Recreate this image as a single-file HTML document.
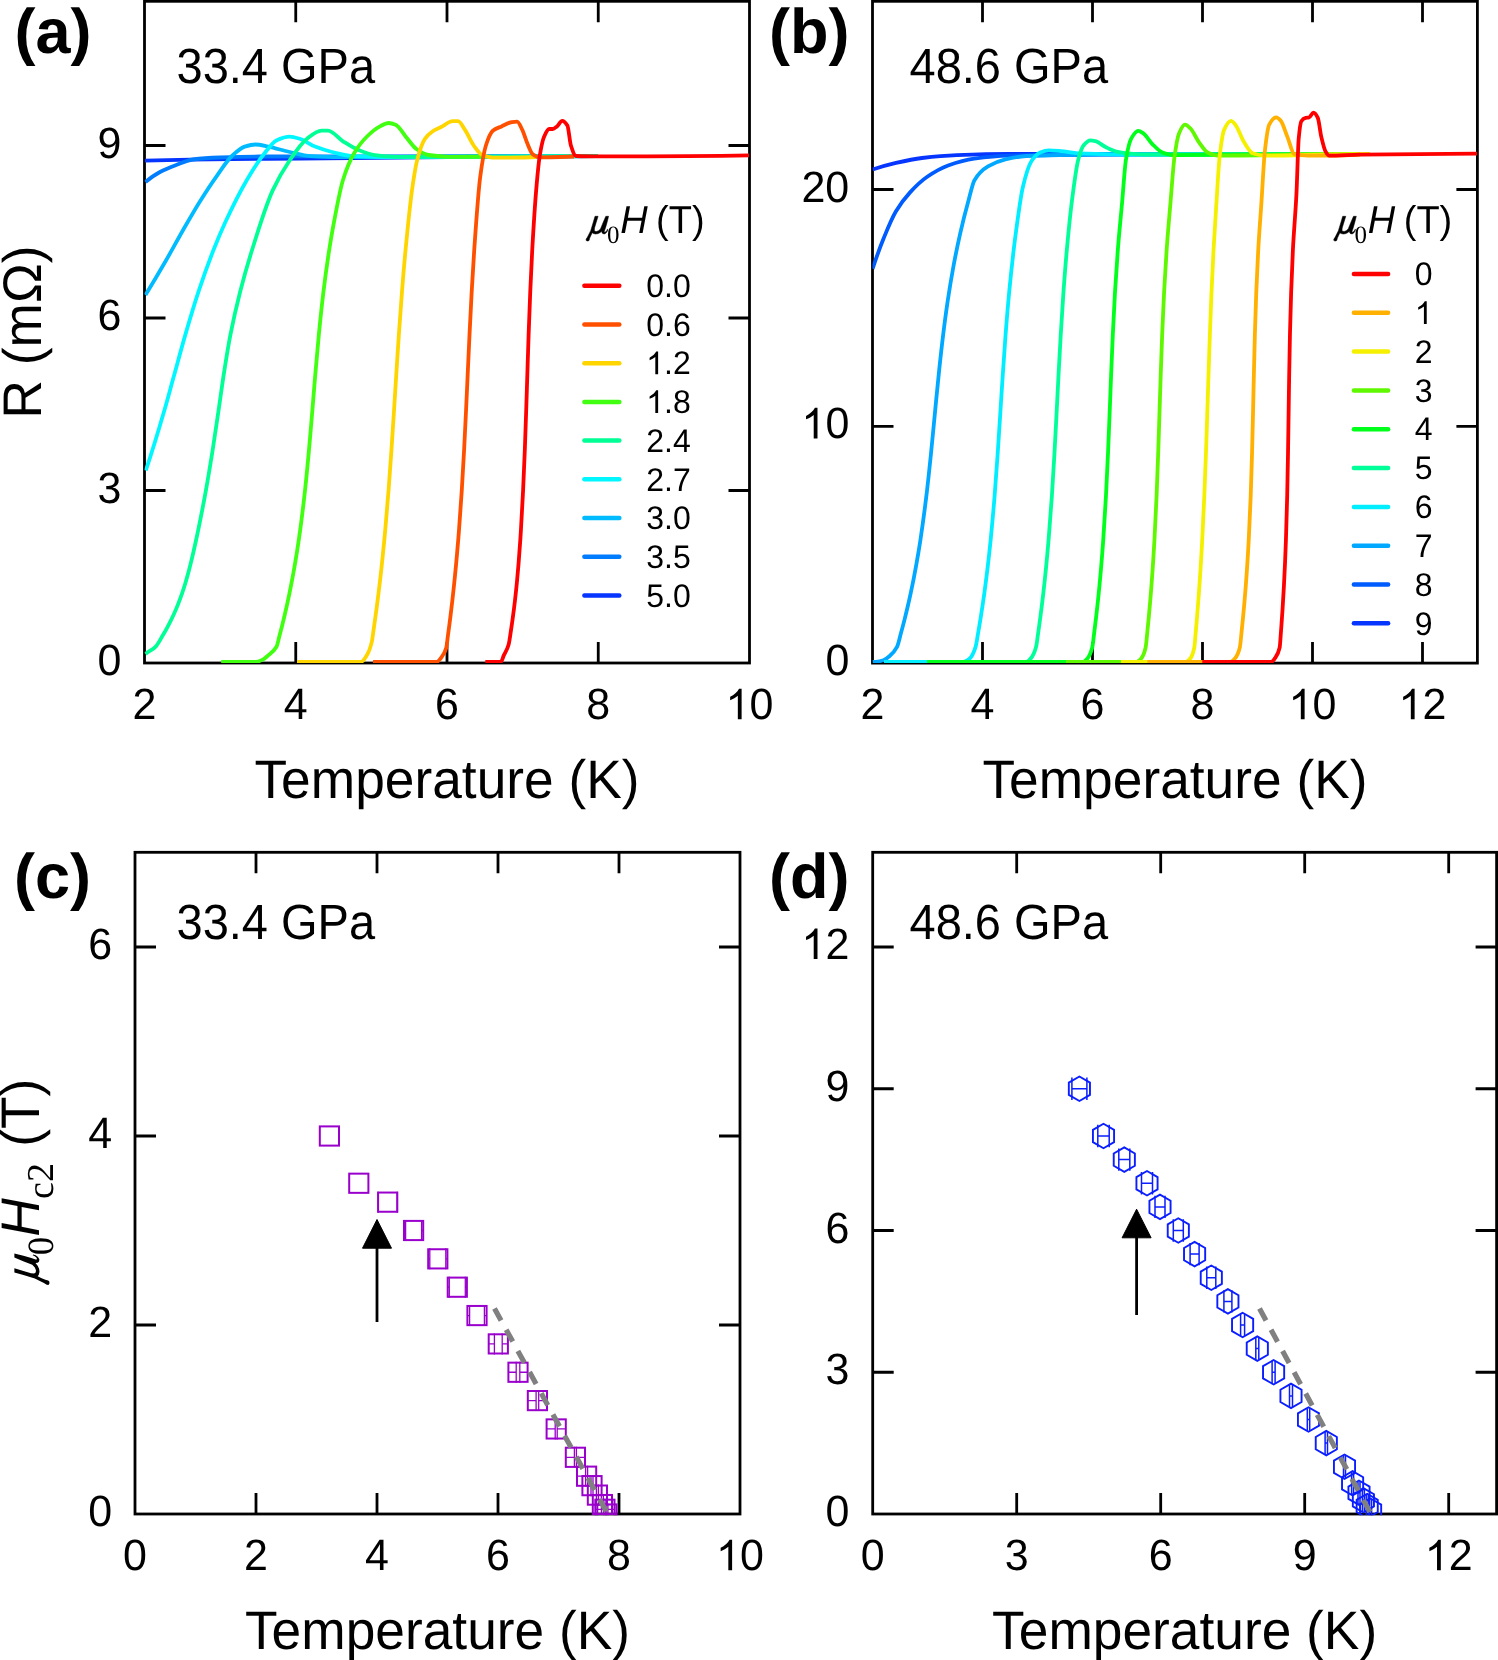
<!DOCTYPE html><html><head><meta charset="utf-8"><style>html,body{margin:0;padding:0;background:#fff;width:1498px;height:1660px;overflow:hidden}svg{display:block;will-change:transform}</style></head><body>
<svg xmlns="http://www.w3.org/2000/svg" width="1498" height="1660" viewBox="0 0 1498 1660" text-rendering="geometricPrecision">
<rect width="1498" height="1660" fill="#fff"/>
<defs><clipPath id="ca"><rect x="144.5" y="1.3" width="605.0" height="661.7"/></clipPath><clipPath id="cb"><rect x="872.5" y="1.3" width="604.9" height="661.8"/></clipPath><clipPath id="cc"><rect x="135.0" y="852.3" width="605.0" height="662.9"/></clipPath><clipPath id="cd"><rect x="872.7" y="852.3" width="623.9" height="662.9"/></clipPath></defs>
<rect x="144.50" y="1.30" width="605.00" height="661.70" fill="none" stroke="#000" stroke-width="2.8"/>
<path d="M295.75 663.00V642.00 M295.75 1.30V22.30 M447.00 663.00V642.00 M447.00 1.30V22.30 M598.25 663.00V642.00 M598.25 1.30V22.30 M144.50 490.50H165.50 M749.50 490.50H728.50 M144.50 318.00H165.50 M749.50 318.00H728.50 M144.50 145.50H165.50 M749.50 145.50H728.50 " stroke="#000" stroke-width="2.8" fill="none"/>
<rect x="872.50" y="1.30" width="604.90" height="661.80" fill="none" stroke="#000" stroke-width="2.8"/>
<path d="M982.50 663.10V642.10 M982.50 1.30V22.30 M1092.50 663.10V642.10 M1092.50 1.30V22.30 M1202.50 663.10V642.10 M1202.50 1.30V22.30 M1312.50 663.10V642.10 M1312.50 1.30V22.30 M1422.50 663.10V642.10 M1422.50 1.30V22.30 M872.50 426.30H893.50 M1477.40 426.30H1456.40 M872.50 189.50H893.50 M1477.40 189.50H1456.40 " stroke="#000" stroke-width="2.8" fill="none"/>
<rect x="135.00" y="852.30" width="605.00" height="661.70" fill="none" stroke="#000" stroke-width="2.8"/>
<path d="M256.00 1514.00V1493.00 M256.00 852.30V873.30 M377.00 1514.00V1493.00 M377.00 852.30V873.30 M498.00 1514.00V1493.00 M498.00 852.30V873.30 M619.00 1514.00V1493.00 M619.00 852.30V873.30 M135.00 1325.00H156.00 M740.00 1325.00H719.00 M135.00 1136.00H156.00 M740.00 1136.00H719.00 M135.00 947.00H156.00 M740.00 947.00H719.00 " stroke="#000" stroke-width="2.8" fill="none"/>
<rect x="872.70" y="852.30" width="623.90" height="661.70" fill="none" stroke="#000" stroke-width="2.8"/>
<path d="M1016.70 1514.00V1493.00 M1016.70 852.30V873.30 M1160.70 1514.00V1493.00 M1160.70 852.30V873.30 M1304.70 1514.00V1493.00 M1304.70 852.30V873.30 M1448.70 1514.00V1493.00 M1448.70 852.30V873.30 M872.70 1372.25H893.70 M1496.60 1372.25H1475.60 M872.70 1230.50H893.70 M1496.60 1230.50H1475.60 M872.70 1088.75H893.70 M1496.60 1088.75H1475.60 M872.70 947.00H893.70 M1496.60 947.00H1475.60 " stroke="#000" stroke-width="2.8" fill="none"/>
<path d="M145.00 160.60 C160.00 160.21 175.00 159.86 190.00 159.60 C204.00 159.36 218.00 159.12 232.00 159.00 C254.67 158.80 277.33 158.77 300.00 158.60 C333.33 158.36 366.67 157.93 400.00 157.60 C433.33 157.27 466.67 156.82 500.00 156.60 C532.67 156.38 565.33 156.19 598.00 156.10" fill="none" stroke="#0535ff" stroke-width="3.8" stroke-linejoin="round" stroke-linecap="butt" clip-path="url(#ca)"/>
<path d="M145.50 181.90 C150.33 178.01 155.17 174.57 160.00 172.00 C165.00 169.35 170.00 167.39 175.00 165.50 C181.00 163.23 187.00 160.26 193.00 159.50 C202.00 158.36 211.00 157.85 220.00 157.50 C233.33 156.99 246.67 156.56 260.00 156.50 C290.00 156.36 320.00 156.36 350.00 156.30 C432.67 156.14 515.33 156.00 598.00 155.90" fill="none" stroke="#007dff" stroke-width="3.8" stroke-linejoin="round" stroke-linecap="butt" clip-path="url(#ca)"/>
<path d="M145.48 295.00 C152.22 284.02 158.95 272.66 165.69 261.00 C171.31 251.27 176.93 240.77 182.55 231.00 C188.34 220.94 194.12 210.77 199.91 201.50 C205.56 192.44 211.21 183.76 216.87 175.80 C221.88 168.75 226.89 160.69 231.90 156.00 C236.17 152.01 240.43 147.90 244.70 146.60 C248.27 145.51 251.83 144.50 255.40 144.50 C259.67 144.50 263.93 145.77 268.20 146.60 C275.33 147.99 282.47 150.43 289.60 152.00 C296.73 153.57 303.87 155.77 311.00 156.20 C320.67 156.79 330.33 157.20 340.00 157.20 C360.00 157.20 380.00 156.91 400.00 156.80 C466.00 156.45 532.00 156.13 598.00 156.00" fill="none" stroke="#00bbff" stroke-width="3.8" stroke-linejoin="round" stroke-linecap="butt" clip-path="url(#ca)"/>
<path d="M145.83 470.50 C152.05 451.87 158.27 431.38 164.48 410.00 C167.48 399.71 170.47 388.38 173.46 377.60 C177.41 363.34 181.37 348.48 185.32 334.90 C189.71 319.82 194.10 304.94 198.50 291.70 C203.50 276.63 208.50 262.71 213.50 250.00 C217.39 240.11 221.29 230.90 225.18 222.50 C232.46 206.77 239.75 192.08 247.03 179.70 C252.69 170.09 258.34 161.07 264.00 154.00 C268.27 148.67 272.53 142.10 276.80 140.20 C281.07 138.30 285.33 136.60 289.60 136.60 C293.17 136.60 296.73 137.91 300.30 139.00 C305.20 140.50 310.10 144.66 315.00 146.60 C320.67 148.84 326.33 150.62 332.00 152.00 C339.23 153.76 346.47 155.81 353.70 156.20 C362.47 156.67 371.23 157.00 380.00 157.00 C452.67 157.00 525.33 157.00 598.00 156.00" fill="none" stroke="#00f7ff" stroke-width="3.8" stroke-linejoin="round" stroke-linecap="butt" clip-path="url(#ca)"/>
<path d="M145.50 654.00 C145.80 653.73 146.10 653.44 146.40 653.20 C149.42 650.75 152.43 649.78 155.45 646.80 C157.76 644.52 160.07 639.92 162.38 636.10 C164.39 632.78 166.40 629.23 168.41 625.40 C170.14 622.11 171.87 618.59 173.59 614.80 C175.11 611.48 176.62 607.93 178.13 604.10 C179.44 600.78 180.75 597.22 182.06 593.40 C183.21 590.07 184.35 586.50 185.49 582.70 C186.50 579.35 187.51 575.76 188.52 572.00 C189.42 568.65 190.31 565.08 191.21 561.40 C192.05 557.97 192.88 554.36 193.72 550.70 C194.52 547.22 195.31 543.64 196.11 540.00 C196.80 536.80 197.50 533.60 198.20 530.20 C200.78 517.61 203.37 504.46 205.96 490.10 C208.19 477.68 210.43 464.14 212.66 450.00 C214.65 437.41 216.64 423.61 218.63 410.00 C220.18 399.41 221.73 387.64 223.28 377.60 C225.65 362.21 228.03 347.09 230.40 334.90 C233.65 318.21 236.90 304.47 240.15 291.70 C244.12 276.12 248.08 262.66 252.05 250.00 C258.93 228.02 265.81 205.37 272.69 190.40 C278.32 178.13 283.96 168.79 289.60 160.50 C295.30 152.12 301.00 143.40 306.70 139.00 C311.67 135.17 316.63 130.60 321.60 130.60 C323.73 130.60 325.87 130.60 328.00 130.60 C333.00 130.60 338.00 138.14 343.00 141.30 C348.00 144.46 353.00 147.75 358.00 149.80 C363.67 152.12 369.33 154.49 375.00 155.20 C382.00 156.08 389.00 156.80 396.00 156.80 C463.33 156.80 530.67 156.80 598.00 156.00" fill="none" stroke="#00ff95" stroke-width="3.8" stroke-linejoin="round" stroke-linecap="butt" clip-path="url(#ca)"/>
<path d="M221.20 662.00 C232.60 662.00 244.00 662.00 255.40 662.00 C257.87 662.00 260.33 660.75 262.80 659.60 C264.60 658.76 266.40 656.98 268.20 655.40 C270.96 652.97 273.72 651.69 276.48 646.80 C277.46 645.06 278.44 639.78 279.42 636.10 C280.35 632.64 281.27 629.08 282.19 625.40 C283.04 621.98 283.90 618.45 284.75 614.80 C285.56 611.35 286.37 607.79 287.18 604.10 C287.94 600.65 288.70 597.09 289.46 593.40 C290.17 589.95 290.88 586.39 291.58 582.70 C292.25 579.25 292.91 575.69 293.57 572.00 C294.19 568.58 294.80 565.05 295.41 561.40 C295.99 557.95 296.57 554.39 297.15 550.70 C297.69 547.25 298.23 543.69 298.77 540.00 C299.23 536.84 299.70 533.66 300.16 530.20 C301.79 518.01 303.42 504.98 305.06 490.10 C306.37 478.14 307.68 464.36 308.99 450.00 C310.12 437.61 311.25 423.58 312.39 410.00 C313.27 399.38 314.16 388.01 315.04 377.60 C316.30 362.79 317.56 347.81 318.82 334.90 C320.36 319.07 321.91 304.36 323.45 291.70 C325.37 276.00 327.28 262.44 329.20 250.00 C330.38 242.34 331.56 235.26 332.74 228.90 C336.18 210.32 339.63 190.77 343.07 179.70 C346.62 168.32 350.16 160.13 353.70 154.00 C357.97 146.62 362.23 141.22 366.50 137.00 C371.00 132.55 375.50 128.69 380.00 126.40 C382.90 124.92 385.80 123.00 388.70 123.00 C391.00 123.00 393.30 123.80 395.60 124.70 C399.07 126.05 402.53 132.85 406.00 136.90 C409.47 140.95 412.93 146.58 416.40 149.00 C420.47 151.84 424.53 154.36 428.60 155.00 C435.53 156.09 442.47 156.80 449.40 156.80 C460.93 156.80 472.47 156.80 484.00 156.50" fill="none" stroke="#40ff10" stroke-width="3.8" stroke-linejoin="round" stroke-linecap="butt" clip-path="url(#ca)"/>
<path d="M297.00 662.00 C318.27 662.00 339.53 662.00 360.80 662.00 C363.00 662.00 365.20 657.96 367.40 654.20 C368.84 651.73 370.28 648.09 371.73 642.10 C372.34 639.58 372.94 634.22 373.55 630.10 C374.13 626.22 374.70 622.22 375.27 618.10 C375.81 614.22 376.35 610.22 376.90 606.10 C377.41 602.22 377.92 598.22 378.43 594.10 C378.91 590.22 379.39 586.22 379.87 582.10 C380.33 578.18 380.78 574.15 381.24 570.00 C381.67 566.12 382.09 562.14 382.52 558.00 C383.12 552.23 383.71 546.22 384.31 540.00 C384.62 536.83 384.92 533.61 385.22 530.20 C386.34 517.69 387.46 504.51 388.58 490.10 C389.53 477.72 390.49 464.05 391.45 450.00 C392.32 437.33 393.18 423.56 394.05 410.00 C394.73 399.37 395.40 388.23 396.08 377.60 C397.01 363.11 397.93 348.36 398.85 334.90 C399.90 319.69 400.94 304.94 401.99 291.70 C403.17 276.63 404.36 262.36 405.55 250.00 C407.84 226.21 410.13 203.04 412.41 187.20 C414.04 175.92 415.67 165.48 417.30 159.40 C419.90 149.69 422.50 142.31 425.10 138.60 C427.43 135.27 429.77 133.29 432.10 131.70 C434.97 129.75 437.83 128.75 440.70 127.30 C444.77 125.24 448.83 121.20 452.90 121.20 C454.63 121.20 456.37 121.20 458.10 121.20 C460.40 121.20 462.70 126.52 465.00 129.90 C467.90 134.17 470.80 141.54 473.70 145.50 C476.60 149.46 479.50 153.90 482.40 155.10 C485.87 156.54 489.33 157.70 492.80 157.70 C507.20 157.70 521.60 157.70 536.00 157.00" fill="none" stroke="#ffd500" stroke-width="3.8" stroke-linejoin="round" stroke-linecap="butt" clip-path="url(#ca)"/>
<path d="M373.00 662.00 C394.17 662.00 415.33 662.00 436.50 662.00 C438.30 662.00 440.10 659.02 441.90 656.60 C443.33 654.68 444.76 652.91 446.18 648.10 C446.75 646.19 447.32 640.23 447.88 636.10 C448.42 632.22 448.95 628.23 449.48 624.10 C449.98 620.22 450.48 616.23 450.98 612.10 C451.45 608.23 451.92 604.23 452.39 600.10 C452.83 596.23 453.27 592.23 453.71 588.10 C454.13 584.20 454.54 580.17 454.96 576.00 C455.35 572.13 455.73 568.13 456.12 564.00 C456.48 560.13 456.84 556.13 457.20 552.00 C457.54 548.13 457.88 544.12 458.22 540.00 C458.48 536.83 458.74 533.64 459.00 530.20 C459.93 517.86 460.86 504.83 461.80 490.10 C462.56 478.01 463.33 464.41 464.10 450.00 C464.75 437.65 465.41 423.86 466.07 410.00 C466.56 399.59 467.06 388.38 467.55 377.60 C468.20 363.33 468.86 348.43 469.51 334.90 C470.24 319.76 470.97 304.87 471.70 291.70 C472.54 276.55 473.38 262.05 474.23 250.00 C476.23 221.34 478.23 191.94 480.23 176.80 C482.12 162.48 484.01 151.40 485.90 145.50 C488.20 138.33 490.50 132.73 492.80 130.80 C495.70 128.37 498.60 127.72 501.50 126.40 C504.97 124.82 508.43 122.61 511.90 122.10 C513.63 121.85 515.37 121.60 517.10 121.60 C518.83 121.60 520.57 126.44 522.30 129.90 C524.03 133.36 525.77 139.83 527.50 143.80 C529.23 147.77 530.97 152.90 532.70 154.20 C535.03 155.95 537.37 157.30 539.70 157.30 C551.13 157.30 562.57 157.30 574.00 156.50" fill="none" stroke="#ff5000" stroke-width="3.8" stroke-linejoin="round" stroke-linecap="butt" clip-path="url(#ca)"/>
<path d="M485.30 662.00 C490.47 662.00 495.63 662.00 500.80 662.00 C501.80 662.00 502.80 657.62 503.80 655.40 C505.42 651.81 507.04 650.11 508.66 644.50 C509.44 641.77 510.23 635.21 511.02 630.10 C511.60 626.33 512.18 622.37 512.76 618.10 C513.51 612.54 514.27 606.64 515.02 600.10 C515.66 594.61 516.29 588.64 516.92 582.10 C517.46 576.58 518.00 570.59 518.53 564.00 C519.12 556.77 519.71 548.64 520.30 540.00 C520.51 536.92 520.72 533.68 520.92 530.20 C521.65 518.10 522.38 505.19 523.11 490.10 C523.68 478.32 524.25 464.73 524.82 450.00 C525.28 437.94 525.75 424.01 526.21 410.00 C526.56 399.69 526.90 388.31 527.24 377.60 C527.70 363.23 528.16 348.09 528.62 334.90 C529.16 319.39 529.70 304.45 530.25 291.70 C530.91 276.09 531.57 261.76 532.23 250.00 C533.68 224.25 535.13 202.05 536.58 185.50 C537.62 173.64 538.66 162.40 539.70 156.00 C541.13 147.16 542.57 140.20 544.00 136.90 C545.73 132.91 547.47 129.00 549.20 129.00 C550.37 129.00 551.53 129.00 552.70 129.00 C554.13 129.00 555.57 127.49 557.00 126.40 C558.73 125.08 560.47 120.90 562.20 120.90 C563.93 120.90 565.67 122.76 567.40 125.60 C568.57 127.51 569.73 141.91 570.90 145.50 C572.63 150.83 574.37 155.95 576.10 156.00 C584.07 156.25 592.03 156.30 600.00 156.30 C649.67 156.30 699.33 156.30 749.00 155.30" fill="none" stroke="#ff0000" stroke-width="3.8" stroke-linejoin="round" stroke-linecap="butt" clip-path="url(#ca)"/>
<path d="M872.60 169.50 C880.40 166.95 888.20 164.67 896.00 162.90 C904.67 160.93 913.33 159.02 922.00 158.00 C933.60 156.63 945.20 155.54 956.80 155.10 C974.13 154.45 991.47 153.90 1008.80 153.90 C1039.20 153.90 1069.60 154.00 1100.00 154.00 C1150.00 154.00 1200.00 154.00 1250.00 154.00" fill="none" stroke="#0535ff" stroke-width="3.8" stroke-linejoin="round" stroke-linecap="butt" clip-path="url(#cb)"/>
<path d="M872.59 268.80 C876.38 257.34 880.18 246.77 883.98 237.50 C887.93 227.85 891.88 218.13 895.83 211.50 C900.57 203.54 905.32 197.57 910.07 192.40 C915.79 186.16 921.52 180.72 927.24 176.80 C934.20 172.04 941.15 168.01 948.10 165.50 C956.77 162.37 965.43 159.76 974.10 158.60 C985.67 157.05 997.23 155.88 1008.80 155.60 C1039.20 154.87 1069.60 154.67 1100.00 154.50 C1150.00 154.23 1200.00 154.00 1250.00 154.00" fill="none" stroke="#005cff" stroke-width="3.8" stroke-linejoin="round" stroke-linecap="butt" clip-path="url(#cb)"/>
<path d="M872.50 662.00 C873.67 661.99 874.83 661.90 876.00 661.80 C878.47 661.59 880.93 661.02 883.40 660.20 C885.40 659.54 887.40 657.91 889.40 656.20 C891.94 654.03 894.49 651.69 897.03 646.80 C898.31 644.35 899.58 638.11 900.85 633.50 C902.04 629.21 903.22 624.75 904.41 620.10 C905.49 615.85 906.57 611.42 907.65 606.80 C908.66 602.52 909.66 598.06 910.66 593.40 C911.58 589.15 912.49 584.72 913.41 580.10 C914.26 575.82 915.10 571.36 915.95 566.70 C916.72 562.45 917.50 558.02 918.27 553.40 C918.98 549.12 919.70 544.78 920.42 540.00 C922.40 526.77 924.38 512.39 926.36 496.10 C927.92 483.27 929.48 468.27 931.04 453.10 C932.43 439.54 933.83 424.44 935.22 410.00 C935.46 407.51 935.70 404.96 935.94 402.50 C937.07 391.00 938.19 379.37 939.32 368.80 C940.59 356.84 941.86 345.31 943.13 335.00 C944.64 322.76 946.15 311.43 947.66 301.30 C949.52 288.84 951.38 277.61 953.23 267.50 C955.53 255.03 957.82 243.89 960.11 233.80 C962.95 221.30 965.79 210.31 968.63 200.00 C970.59 192.90 972.54 183.50 974.50 180.20 C979.00 172.60 983.50 169.05 988.00 166.40 C993.80 162.99 999.60 160.77 1005.40 159.40 C1012.33 157.77 1019.27 156.29 1026.20 156.00 C1050.80 154.96 1075.40 154.65 1100.00 154.50 C1150.00 154.19 1200.00 154.00 1250.00 154.00" fill="none" stroke="#00a8ff" stroke-width="3.8" stroke-linejoin="round" stroke-linecap="butt" clip-path="url(#cb)"/>
<path d="M884.00 662.00 C910.50 662.00 937.00 662.00 963.50 662.00 C965.50 662.00 967.50 660.47 969.50 658.80 C971.54 657.09 973.58 653.13 975.62 646.80 C976.43 644.30 977.23 638.10 978.04 633.50 C978.79 629.20 979.55 624.74 980.30 620.10 C980.99 615.84 981.68 611.41 982.37 606.80 C983.02 602.51 983.66 598.05 984.31 593.40 C984.90 589.14 985.49 584.71 986.08 580.10 C986.63 575.81 987.18 571.35 987.73 566.70 C988.23 562.44 988.74 558.01 989.24 553.40 C989.71 549.11 990.18 544.76 990.65 540.00 C991.96 526.69 993.28 512.31 994.59 496.10 C995.64 483.20 996.68 468.32 997.73 453.10 C998.66 439.59 999.58 424.44 1000.51 410.00 C1001.21 399.15 1001.91 387.74 1002.61 377.30 C1003.60 362.49 1004.59 347.77 1005.57 334.90 C1006.77 319.38 1007.96 304.97 1009.16 292.40 C1010.66 276.54 1012.17 262.73 1013.67 250.00 C1014.58 242.34 1015.49 235.29 1016.39 228.80 C1018.54 213.45 1020.68 196.21 1022.83 187.20 C1025.68 175.19 1028.54 165.50 1031.40 161.20 C1034.30 156.83 1037.20 153.63 1040.10 152.50 C1043.00 151.37 1045.90 150.40 1048.80 150.40 C1052.83 150.40 1056.87 150.79 1060.90 151.10 C1066.70 151.55 1072.50 153.10 1078.30 153.30 C1102.20 154.14 1126.10 154.50 1150.00 154.50 C1200.00 154.50 1250.00 154.50 1300.00 154.00" fill="none" stroke="#00eeff" stroke-width="3.8" stroke-linejoin="round" stroke-linecap="butt" clip-path="url(#cb)"/>
<path d="M927.00 662.00 C960.07 662.00 993.13 662.00 1026.20 662.00 C1027.97 662.00 1029.73 659.72 1031.50 657.50 C1033.04 655.57 1034.57 652.45 1036.11 646.80 C1036.78 644.36 1037.44 638.10 1038.11 633.50 C1038.73 629.20 1039.35 624.74 1039.97 620.10 C1040.55 615.83 1041.12 611.40 1041.69 606.80 C1042.23 602.50 1042.76 598.04 1043.29 593.40 C1043.79 589.14 1044.28 584.71 1044.77 580.10 C1045.23 575.80 1045.68 571.34 1046.14 566.70 C1046.56 562.44 1046.98 558.01 1047.40 553.40 C1047.79 549.10 1048.19 544.76 1048.58 540.00 C1049.68 526.68 1050.77 512.35 1051.87 496.10 C1052.74 483.24 1053.61 468.45 1054.48 453.10 C1055.24 439.71 1055.99 424.62 1056.75 410.00 C1057.31 399.27 1057.86 387.87 1058.42 377.30 C1059.19 362.69 1059.96 347.92 1060.73 334.90 C1061.64 319.56 1062.54 305.06 1063.45 292.40 C1064.58 276.65 1065.70 262.42 1066.83 250.00 C1068.46 232.11 1070.08 215.65 1071.70 202.80 C1073.90 185.40 1076.10 167.62 1078.30 159.40 C1080.03 152.92 1081.77 147.59 1083.50 145.50 C1085.80 142.72 1088.10 140.30 1090.40 140.30 C1092.13 140.30 1093.87 140.76 1095.60 141.20 C1099.07 142.07 1102.53 145.62 1106.00 147.30 C1109.47 148.98 1112.93 150.79 1116.40 151.60 C1119.90 152.41 1123.40 153.01 1126.90 153.30 C1134.60 153.95 1142.30 154.50 1150.00 154.50 C1200.00 154.50 1250.00 154.50 1300.00 154.00" fill="none" stroke="#00ff98" stroke-width="3.8" stroke-linejoin="round" stroke-linecap="butt" clip-path="url(#cb)"/>
<path d="M927.00 662.00 C979.00 662.00 1031.00 662.00 1083.00 662.00 C1084.57 662.00 1086.13 660.09 1087.70 658.20 C1089.21 656.37 1090.72 653.29 1092.23 647.50 C1092.92 644.86 1093.61 637.48 1094.30 632.10 C1094.93 627.23 1095.55 622.15 1096.17 616.80 C1096.75 611.91 1097.32 606.79 1097.89 601.40 C1098.40 596.54 1098.92 591.46 1099.43 586.10 C1099.90 581.22 1100.37 576.10 1100.84 570.70 C1101.26 565.85 1101.68 560.76 1102.10 555.40 C1102.49 550.52 1102.87 545.55 1103.25 540.00 C1104.16 526.92 1105.06 512.69 1105.97 496.10 C1106.65 483.52 1107.34 468.70 1108.02 453.10 C1108.60 439.93 1109.18 424.67 1109.76 410.00 C1110.18 399.31 1110.60 387.77 1111.02 377.30 C1111.62 362.54 1112.21 347.66 1112.81 334.90 C1113.54 319.26 1114.26 304.79 1114.99 292.40 C1115.94 276.33 1116.88 262.18 1117.83 250.00 C1119.24 231.79 1120.66 218.46 1122.07 202.80 C1123.38 188.27 1124.69 167.27 1126.00 159.40 C1127.73 149.00 1129.47 141.71 1131.20 138.60 C1133.53 134.42 1135.87 130.80 1138.20 130.80 C1139.93 130.80 1141.67 132.22 1143.40 133.40 C1146.30 135.38 1149.20 140.93 1152.10 143.80 C1155.57 147.23 1159.03 151.17 1162.50 152.50 C1165.97 153.83 1169.43 155.10 1172.90 155.10 C1198.60 155.10 1224.30 154.66 1250.00 154.50 C1283.33 154.30 1316.67 154.11 1350.00 154.00" fill="none" stroke="#00ff1a" stroke-width="3.8" stroke-linejoin="round" stroke-linecap="butt" clip-path="url(#cb)"/>
<path d="M1066.00 662.00 C1089.33 662.00 1112.67 662.00 1136.00 662.00 C1137.80 662.00 1139.60 660.23 1141.40 658.20 C1142.82 656.61 1144.23 653.61 1145.65 647.50 C1146.20 645.10 1146.76 637.48 1147.32 632.10 C1147.82 627.24 1148.32 622.16 1148.82 616.80 C1149.28 611.92 1149.73 606.80 1150.19 601.40 C1150.60 596.55 1151.01 591.47 1151.42 586.10 C1151.80 581.23 1152.17 576.11 1152.54 570.70 C1152.87 565.86 1153.21 560.77 1153.54 555.40 C1153.84 550.53 1154.15 545.56 1154.45 540.00 C1155.16 526.95 1155.87 512.68 1156.58 496.10 C1157.12 483.51 1157.66 468.56 1158.20 453.10 C1158.66 439.81 1159.13 424.44 1159.59 410.00 C1159.94 399.15 1160.29 387.59 1160.64 377.30 C1161.14 362.28 1161.65 347.46 1162.16 334.90 C1162.81 319.03 1163.45 304.67 1164.09 292.40 C1164.94 276.20 1165.79 262.13 1166.64 250.00 C1167.92 231.72 1169.20 217.91 1170.48 202.80 C1171.85 186.56 1173.23 165.76 1174.60 156.00 C1176.07 145.59 1177.53 136.81 1179.00 133.40 C1181.00 128.74 1183.00 124.70 1185.00 124.70 C1186.73 124.70 1188.47 126.61 1190.20 128.20 C1193.10 130.86 1196.00 138.13 1198.90 142.10 C1201.80 146.07 1204.70 151.09 1207.60 152.50 C1211.07 154.18 1214.53 155.60 1218.00 155.60 C1245.33 155.60 1272.67 154.78 1300.00 154.50 C1320.00 154.30 1340.00 154.12 1360.00 154.00" fill="none" stroke="#60f800" stroke-width="3.8" stroke-linejoin="round" stroke-linecap="butt" clip-path="url(#cb)"/>
<path d="M1121.00 662.00 C1142.40 662.00 1163.80 662.00 1185.20 662.00 C1186.97 662.00 1188.73 660.29 1190.50 658.20 C1191.77 656.70 1193.03 653.68 1194.30 647.50 C1194.78 645.15 1195.26 637.45 1195.75 632.10 C1196.19 627.21 1196.63 622.12 1197.07 616.80 C1197.48 611.88 1197.88 606.76 1198.29 601.40 C1198.66 596.52 1199.03 591.43 1199.40 586.10 C1199.75 581.19 1200.09 576.06 1200.43 570.70 C1200.74 565.82 1201.05 560.73 1201.36 555.40 C1201.65 550.49 1201.94 545.49 1202.22 540.00 C1202.92 526.70 1203.62 512.36 1204.31 496.10 C1204.86 483.24 1205.42 468.50 1205.97 453.10 C1206.44 439.75 1206.92 424.70 1207.40 410.00 C1207.75 399.33 1208.09 387.94 1208.44 377.30 C1208.91 362.79 1209.39 348.01 1209.86 334.90 C1210.41 319.66 1210.96 305.13 1211.51 292.40 C1212.19 276.73 1212.86 262.46 1213.54 250.00 C1214.51 232.17 1215.48 217.61 1216.45 202.80 C1217.53 186.25 1218.62 165.30 1219.70 156.00 C1221.17 143.42 1222.63 133.19 1224.10 129.90 C1226.40 124.74 1228.70 120.90 1231.00 120.90 C1232.47 120.90 1233.93 123.00 1235.40 124.70 C1238.27 128.03 1241.13 137.59 1244.00 142.10 C1246.90 146.67 1249.80 152.30 1252.70 153.30 C1256.77 154.70 1260.83 155.60 1264.90 155.60 C1286.60 155.60 1308.30 154.81 1330.00 154.50 C1343.33 154.31 1356.67 154.14 1370.00 154.00" fill="none" stroke="#f5f000" stroke-width="3.8" stroke-linejoin="round" stroke-linecap="butt" clip-path="url(#cb)"/>
<path d="M1147.40 662.00 C1174.83 662.00 1202.27 662.00 1229.70 662.00 C1231.50 662.00 1233.30 660.16 1235.10 658.20 C1236.67 656.49 1238.25 653.76 1239.82 647.50 C1240.40 645.20 1240.98 637.50 1241.56 632.10 C1242.08 627.26 1242.60 622.18 1243.11 616.80 C1243.58 611.94 1244.05 606.83 1244.52 601.40 C1244.93 596.58 1245.35 591.50 1245.76 586.10 C1246.14 581.26 1246.51 576.15 1246.88 570.70 C1247.21 565.90 1247.54 560.82 1247.87 555.40 C1248.16 550.58 1248.45 545.66 1248.74 540.00 C1249.40 527.32 1250.05 513.48 1250.70 496.10 C1251.15 484.14 1251.60 469.45 1252.05 453.10 C1252.40 440.58 1252.74 424.99 1253.09 410.00 C1253.33 399.52 1253.57 387.61 1253.81 377.30 C1254.16 362.30 1254.51 347.11 1254.86 334.90 C1255.33 318.62 1255.79 304.24 1256.26 292.40 C1256.92 275.67 1257.58 261.74 1258.24 250.00 C1259.30 231.16 1260.36 218.57 1261.41 202.80 C1262.58 185.48 1263.74 160.85 1264.90 150.70 C1266.33 138.17 1267.77 127.40 1269.20 124.70 C1271.53 120.30 1273.87 117.40 1276.20 117.40 C1277.63 117.40 1279.07 118.91 1280.50 120.40 C1282.80 122.78 1285.10 131.31 1287.40 136.90 C1289.73 142.57 1292.07 153.70 1294.40 154.20 C1299.03 155.20 1303.67 155.60 1308.30 155.60 C1325.53 155.60 1342.77 155.60 1360.00 154.50" fill="none" stroke="#ffb000" stroke-width="3.8" stroke-linejoin="round" stroke-linecap="butt" clip-path="url(#cb)"/>
<path d="M1202.30 662.00 C1225.23 662.00 1248.17 662.00 1271.10 662.00 C1272.40 662.00 1273.70 659.96 1275.00 658.20 C1276.56 656.10 1278.12 654.42 1279.68 647.50 C1280.10 645.64 1280.51 637.48 1280.93 632.10 C1281.13 629.63 1281.32 627.07 1281.51 624.40 C1281.86 619.55 1282.21 614.57 1282.56 609.10 C1283.01 602.04 1283.46 594.54 1283.91 586.10 C1284.28 579.13 1284.66 571.53 1285.03 563.00 C1285.33 556.10 1285.63 548.78 1285.93 540.00 C1286.35 527.74 1286.77 513.85 1287.19 496.10 C1287.47 484.43 1287.74 469.38 1288.02 453.10 C1288.23 440.53 1288.45 424.33 1288.66 410.00 C1288.82 399.07 1288.99 387.01 1289.15 377.30 C1289.42 361.35 1289.68 346.48 1289.95 334.90 C1290.35 317.83 1290.74 303.92 1291.14 292.40 C1291.72 275.26 1292.31 261.45 1292.90 250.00 C1294.08 226.93 1295.26 217.20 1296.44 194.10 C1297.20 179.42 1297.95 146.62 1298.70 138.60 C1299.57 129.36 1300.43 122.49 1301.30 121.20 C1302.77 119.02 1304.23 118.09 1305.70 117.80 C1306.83 117.58 1307.97 117.63 1309.10 117.40 C1310.57 117.10 1312.03 112.60 1313.50 112.60 C1314.93 112.60 1316.37 114.90 1317.80 117.80 C1318.97 120.16 1320.13 131.96 1321.30 136.90 C1322.73 142.97 1324.17 149.19 1325.60 151.60 C1326.77 153.57 1327.93 155.60 1329.10 155.60 C1339.40 155.60 1349.70 154.76 1360.00 154.60 C1399.00 154.01 1438.00 153.60 1477.00 153.60" fill="none" stroke="#ff0000" stroke-width="3.8" stroke-linejoin="round" stroke-linecap="butt" clip-path="url(#cb)"/>
<text transform="translate(144.50 719.30) scale(1 1.020)" font-size="43" text-anchor="middle" font-weight="normal" font-style="normal" font-family='"Liberation Sans", sans-serif' >2</text>
<text transform="translate(295.75 719.30) scale(1 1.020)" font-size="43" text-anchor="middle" font-weight="normal" font-style="normal" font-family='"Liberation Sans", sans-serif' >4</text>
<text transform="translate(447.00 719.30) scale(1 1.020)" font-size="43" text-anchor="middle" font-weight="normal" font-style="normal" font-family='"Liberation Sans", sans-serif' >6</text>
<text transform="translate(598.25 719.30) scale(1 1.020)" font-size="43" text-anchor="middle" font-weight="normal" font-style="normal" font-family='"Liberation Sans", sans-serif' >8</text>
<path transform="translate(725.59 719.30) scale(43.000 43.860)" d="M0.3726 0 L0.2847 0 L0.2847 -0.535 C0.235 -0.495 0.175 -0.462 0.106 -0.436 L0.106 -0.512 C0.200 -0.555 0.270 -0.620 0.313 -0.697 L0.3726 -0.697 Z" fill="#000"/>
<text transform="translate(749.50 719.30) scale(1 1.020)" font-size="43" text-anchor="start" font-weight="normal" font-style="normal" font-family='"Liberation Sans", sans-serif' >0</text>
<text transform="translate(121.50 675.10) scale(1 1.020)" font-size="43" text-anchor="end" font-weight="normal" font-style="normal" font-family='"Liberation Sans", sans-serif' >0</text>
<text transform="translate(121.50 502.60) scale(1 1.020)" font-size="43" text-anchor="end" font-weight="normal" font-style="normal" font-family='"Liberation Sans", sans-serif' >3</text>
<text transform="translate(121.50 330.10) scale(1 1.020)" font-size="43" text-anchor="end" font-weight="normal" font-style="normal" font-family='"Liberation Sans", sans-serif' >6</text>
<text transform="translate(121.50 157.60) scale(1 1.020)" font-size="43" text-anchor="end" font-weight="normal" font-style="normal" font-family='"Liberation Sans", sans-serif' >9</text>
<text transform="translate(872.50 719.30) scale(1 1.020)" font-size="43" text-anchor="middle" font-weight="normal" font-style="normal" font-family='"Liberation Sans", sans-serif' >2</text>
<text transform="translate(982.50 719.30) scale(1 1.020)" font-size="43" text-anchor="middle" font-weight="normal" font-style="normal" font-family='"Liberation Sans", sans-serif' >4</text>
<text transform="translate(1092.50 719.30) scale(1 1.020)" font-size="43" text-anchor="middle" font-weight="normal" font-style="normal" font-family='"Liberation Sans", sans-serif' >6</text>
<text transform="translate(1202.50 719.30) scale(1 1.020)" font-size="43" text-anchor="middle" font-weight="normal" font-style="normal" font-family='"Liberation Sans", sans-serif' >8</text>
<path transform="translate(1288.59 719.30) scale(43.000 43.860)" d="M0.3726 0 L0.2847 0 L0.2847 -0.535 C0.235 -0.495 0.175 -0.462 0.106 -0.436 L0.106 -0.512 C0.200 -0.555 0.270 -0.620 0.313 -0.697 L0.3726 -0.697 Z" fill="#000"/>
<text transform="translate(1312.50 719.30) scale(1 1.020)" font-size="43" text-anchor="start" font-weight="normal" font-style="normal" font-family='"Liberation Sans", sans-serif' >0</text>
<path transform="translate(1398.59 719.30) scale(43.000 43.860)" d="M0.3726 0 L0.2847 0 L0.2847 -0.535 C0.235 -0.495 0.175 -0.462 0.106 -0.436 L0.106 -0.512 C0.200 -0.555 0.270 -0.620 0.313 -0.697 L0.3726 -0.697 Z" fill="#000"/>
<text transform="translate(1422.50 719.30) scale(1 1.020)" font-size="43" text-anchor="start" font-weight="normal" font-style="normal" font-family='"Liberation Sans", sans-serif' >2</text>
<text transform="translate(849.30 675.20) scale(1 1.020)" font-size="43" text-anchor="end" font-weight="normal" font-style="normal" font-family='"Liberation Sans", sans-serif' >0</text>
<path transform="translate(801.47 438.40) scale(43.000 43.860)" d="M0.3726 0 L0.2847 0 L0.2847 -0.535 C0.235 -0.495 0.175 -0.462 0.106 -0.436 L0.106 -0.512 C0.200 -0.555 0.270 -0.620 0.313 -0.697 L0.3726 -0.697 Z" fill="#000"/>
<text transform="translate(825.39 438.40) scale(1 1.020)" font-size="43" text-anchor="start" font-weight="normal" font-style="normal" font-family='"Liberation Sans", sans-serif' >0</text>
<text transform="translate(849.30 201.60) scale(1 1.020)" font-size="43" text-anchor="end" font-weight="normal" font-style="normal" font-family='"Liberation Sans", sans-serif' >20</text>
<text transform="translate(135.00 1570.30) scale(1 1.020)" font-size="43" text-anchor="middle" font-weight="normal" font-style="normal" font-family='"Liberation Sans", sans-serif' >0</text>
<text transform="translate(256.00 1570.30) scale(1 1.020)" font-size="43" text-anchor="middle" font-weight="normal" font-style="normal" font-family='"Liberation Sans", sans-serif' >2</text>
<text transform="translate(377.00 1570.30) scale(1 1.020)" font-size="43" text-anchor="middle" font-weight="normal" font-style="normal" font-family='"Liberation Sans", sans-serif' >4</text>
<text transform="translate(498.00 1570.30) scale(1 1.020)" font-size="43" text-anchor="middle" font-weight="normal" font-style="normal" font-family='"Liberation Sans", sans-serif' >6</text>
<text transform="translate(619.00 1570.30) scale(1 1.020)" font-size="43" text-anchor="middle" font-weight="normal" font-style="normal" font-family='"Liberation Sans", sans-serif' >8</text>
<path transform="translate(716.09 1570.30) scale(43.000 43.860)" d="M0.3726 0 L0.2847 0 L0.2847 -0.535 C0.235 -0.495 0.175 -0.462 0.106 -0.436 L0.106 -0.512 C0.200 -0.555 0.270 -0.620 0.313 -0.697 L0.3726 -0.697 Z" fill="#000"/>
<text transform="translate(740.00 1570.30) scale(1 1.020)" font-size="43" text-anchor="start" font-weight="normal" font-style="normal" font-family='"Liberation Sans", sans-serif' >0</text>
<text transform="translate(112.20 1526.10) scale(1 1.020)" font-size="43" text-anchor="end" font-weight="normal" font-style="normal" font-family='"Liberation Sans", sans-serif' >0</text>
<text transform="translate(112.20 1337.10) scale(1 1.020)" font-size="43" text-anchor="end" font-weight="normal" font-style="normal" font-family='"Liberation Sans", sans-serif' >2</text>
<text transform="translate(112.20 1148.10) scale(1 1.020)" font-size="43" text-anchor="end" font-weight="normal" font-style="normal" font-family='"Liberation Sans", sans-serif' >4</text>
<text transform="translate(112.20 959.10) scale(1 1.020)" font-size="43" text-anchor="end" font-weight="normal" font-style="normal" font-family='"Liberation Sans", sans-serif' >6</text>
<text transform="translate(872.70 1570.30) scale(1 1.020)" font-size="43" text-anchor="middle" font-weight="normal" font-style="normal" font-family='"Liberation Sans", sans-serif' >0</text>
<text transform="translate(1016.70 1570.30) scale(1 1.020)" font-size="43" text-anchor="middle" font-weight="normal" font-style="normal" font-family='"Liberation Sans", sans-serif' >3</text>
<text transform="translate(1160.70 1570.30) scale(1 1.020)" font-size="43" text-anchor="middle" font-weight="normal" font-style="normal" font-family='"Liberation Sans", sans-serif' >6</text>
<text transform="translate(1304.70 1570.30) scale(1 1.020)" font-size="43" text-anchor="middle" font-weight="normal" font-style="normal" font-family='"Liberation Sans", sans-serif' >9</text>
<path transform="translate(1424.79 1570.30) scale(43.000 43.860)" d="M0.3726 0 L0.2847 0 L0.2847 -0.535 C0.235 -0.495 0.175 -0.462 0.106 -0.436 L0.106 -0.512 C0.200 -0.555 0.270 -0.620 0.313 -0.697 L0.3726 -0.697 Z" fill="#000"/>
<text transform="translate(1448.70 1570.30) scale(1 1.020)" font-size="43" text-anchor="start" font-weight="normal" font-style="normal" font-family='"Liberation Sans", sans-serif' >2</text>
<text transform="translate(849.30 1526.10) scale(1 1.020)" font-size="43" text-anchor="end" font-weight="normal" font-style="normal" font-family='"Liberation Sans", sans-serif' >0</text>
<text transform="translate(849.30 1384.35) scale(1 1.020)" font-size="43" text-anchor="end" font-weight="normal" font-style="normal" font-family='"Liberation Sans", sans-serif' >3</text>
<text transform="translate(849.30 1242.60) scale(1 1.020)" font-size="43" text-anchor="end" font-weight="normal" font-style="normal" font-family='"Liberation Sans", sans-serif' >6</text>
<text transform="translate(849.30 1100.85) scale(1 1.020)" font-size="43" text-anchor="end" font-weight="normal" font-style="normal" font-family='"Liberation Sans", sans-serif' >9</text>
<path transform="translate(801.47 959.10) scale(43.000 43.860)" d="M0.3726 0 L0.2847 0 L0.2847 -0.535 C0.235 -0.495 0.175 -0.462 0.106 -0.436 L0.106 -0.512 C0.200 -0.555 0.270 -0.620 0.313 -0.697 L0.3726 -0.697 Z" fill="#000"/>
<text transform="translate(825.39 959.10) scale(1 1.020)" font-size="43" text-anchor="start" font-weight="normal" font-style="normal" font-family='"Liberation Sans", sans-serif' >2</text>
<text transform="translate(447.00 797.80) scale(1 1.020)" font-size="53.3" text-anchor="middle" font-weight="normal" font-style="normal" font-family='"Liberation Sans", sans-serif' >Temperature (K)</text>
<text transform="translate(1174.95 797.80) scale(1 1.020)" font-size="53.3" text-anchor="middle" font-weight="normal" font-style="normal" font-family='"Liberation Sans", sans-serif' >Temperature (K)</text>
<text transform="translate(437.50 1648.50) scale(1 1.020)" font-size="53.3" text-anchor="middle" font-weight="normal" font-style="normal" font-family='"Liberation Sans", sans-serif' >Temperature (K)</text>
<text transform="translate(1184.65 1648.50) scale(1 1.020)" font-size="53.3" text-anchor="middle" font-weight="normal" font-style="normal" font-family='"Liberation Sans", sans-serif' >Temperature (K)</text>
<text transform="translate(40.5 332) rotate(-90) scale(1 1.02)" font-size="53.3" text-anchor="middle" font-family='"Liberation Sans", sans-serif'>R (m&#937;)</text>
<g transform="translate(38.8 1285.1) rotate(-90)">
<path transform="scale(1.39 1.42)" d="M9.10 -17.20 L12.20 -17.20 L10.20 -10.80 L8.60 -5.50 L8.40 -3.30 L9.00 -2.20 L10.60 -2.00 L12.60 -2.80 L14.60 -4.60 L17.20 -11.00 L19.90 -17.20 L22.70 -17.20 L21.10 -10.80 L19.50 -5.30 L18.40 -2.20 L18.60 -1.20 L19.60 -1.60 L20.80 -2.80 L21.50 -4.30 L22.00 -4.00 L21.40 -2.20 L20.20 -0.60 L18.60 0.40 L17.00 0.20 L16.10 -0.80 L15.90 -2.30 L14.00 -0.80 L11.80 0.20 L9.60 0.50 L7.40 0.00 L6.30 -0.80 L5.00 2.00 L3.80 4.60 L3.30 6.60 L2.60 7.40 L1.20 7.50 L0.10 6.80 L0.30 5.60 L1.60 3.60 L4.80 -2.80 L7.20 -10.80Z" fill="#000"/>
<text x="29.8" y="14.1" font-family='"Liberation Serif", serif' font-size="37">0</text>
<text transform="translate(48.35 0) scale(1 1.02)" font-family='"Liberation Sans", sans-serif' font-size="53.3" font-style="italic">H</text>
<text x="86" y="14" font-family='"Liberation Serif", serif' font-size="38">c</text>
<text x="103.05" y="14" font-family='"Liberation Serif", serif' font-size="38">2</text>
<text transform="translate(138.25 0) scale(1 1.02)" font-family='"Liberation Sans", sans-serif' font-size="53.3">(T)</text>
</g>
<text transform="translate(14.50 53.30) scale(1 1.000)" font-size="63" text-anchor="start" font-weight="bold" font-style="normal" font-family='"Liberation Sans", sans-serif' >(a)</text>
<text transform="translate(769.00 53.30) scale(1 1.000)" font-size="63" text-anchor="start" font-weight="bold" font-style="normal" font-family='"Liberation Sans", sans-serif' >(b)</text>
<text transform="translate(14.00 898.00) scale(1 1.000)" font-size="63" text-anchor="start" font-weight="bold" font-style="normal" font-family='"Liberation Sans", sans-serif' >(c)</text>
<text transform="translate(769.00 898.00) scale(1 1.000)" font-size="63" text-anchor="start" font-weight="bold" font-style="normal" font-family='"Liberation Sans", sans-serif' >(d)</text>
<text transform="translate(176.50 83.00) scale(1 1.055)" font-size="47" text-anchor="start" font-weight="normal" font-style="normal" font-family='"Liberation Sans", sans-serif' >33.4 GPa</text>
<text transform="translate(909.50 83.00) scale(1 1.055)" font-size="47" text-anchor="start" font-weight="normal" font-style="normal" font-family='"Liberation Sans", sans-serif' >48.6 GPa</text>
<text transform="translate(176.50 938.70) scale(1 1.055)" font-size="47" text-anchor="start" font-weight="normal" font-style="normal" font-family='"Liberation Sans", sans-serif' >33.4 GPa</text>
<text transform="translate(909.50 938.70) scale(1 1.055)" font-size="47" text-anchor="start" font-weight="normal" font-style="normal" font-family='"Liberation Sans", sans-serif' >48.6 GPa</text>
<path transform="translate(585.90 233.5)" d="M9.10 -17.20 L12.20 -17.20 L10.20 -10.80 L8.60 -5.50 L8.40 -3.30 L9.00 -2.20 L10.60 -2.00 L12.60 -2.80 L14.60 -4.60 L17.20 -11.00 L19.90 -17.20 L22.70 -17.20 L21.10 -10.80 L19.50 -5.30 L18.40 -2.20 L18.60 -1.20 L19.60 -1.60 L20.80 -2.80 L21.50 -4.30 L22.00 -4.00 L21.40 -2.20 L20.20 -0.60 L18.60 0.40 L17.00 0.20 L16.10 -0.80 L15.90 -2.30 L14.00 -0.80 L11.80 0.20 L9.60 0.50 L7.40 0.00 L6.30 -0.80 L5.00 2.00 L3.80 4.60 L3.30 6.60 L2.60 7.40 L1.20 7.50 L0.10 6.80 L0.30 5.60 L1.60 3.60 L4.80 -2.80 L7.20 -10.80Z" fill="#000" stroke="#000" stroke-width="0.5" stroke-linejoin="round"/>
<text x="606.90" y="243.25" font-family='"Liberation Serif", serif' font-size="25">0</text>
<text transform="translate(620.15 233.2) scale(1 1.02)" font-family='"Liberation Sans", sans-serif' font-size="38"><tspan font-style="italic">H</tspan></text>
<text transform="translate(656.05 233.2) scale(1 1.02)" font-family='"Liberation Sans", sans-serif' font-size="38">(T)</text>
<path transform="translate(1333.60 233.5)" d="M9.10 -17.20 L12.20 -17.20 L10.20 -10.80 L8.60 -5.50 L8.40 -3.30 L9.00 -2.20 L10.60 -2.00 L12.60 -2.80 L14.60 -4.60 L17.20 -11.00 L19.90 -17.20 L22.70 -17.20 L21.10 -10.80 L19.50 -5.30 L18.40 -2.20 L18.60 -1.20 L19.60 -1.60 L20.80 -2.80 L21.50 -4.30 L22.00 -4.00 L21.40 -2.20 L20.20 -0.60 L18.60 0.40 L17.00 0.20 L16.10 -0.80 L15.90 -2.30 L14.00 -0.80 L11.80 0.20 L9.60 0.50 L7.40 0.00 L6.30 -0.80 L5.00 2.00 L3.80 4.60 L3.30 6.60 L2.60 7.40 L1.20 7.50 L0.10 6.80 L0.30 5.60 L1.60 3.60 L4.80 -2.80 L7.20 -10.80Z" fill="#000" stroke="#000" stroke-width="0.5" stroke-linejoin="round"/>
<text x="1354.60" y="243.25" font-family='"Liberation Serif", serif' font-size="25">0</text>
<text transform="translate(1367.85 233.2) scale(1 1.02)" font-family='"Liberation Sans", sans-serif' font-size="38"><tspan font-style="italic">H</tspan></text>
<text transform="translate(1403.75 233.2) scale(1 1.02)" font-family='"Liberation Sans", sans-serif' font-size="38">(T)</text>
<path d="M584.4 285.70H619.3" stroke="#ff0000" stroke-width="4.5" stroke-linecap="round"/>
<text transform="translate(646.20 296.90) scale(1 1.020)" font-size="32" text-anchor="start" font-weight="normal" font-style="normal" font-family='"Liberation Sans", sans-serif' >0.0</text>
<path d="M584.4 324.43H619.3" stroke="#ff5000" stroke-width="4.5" stroke-linecap="round"/>
<text transform="translate(646.20 335.63) scale(1 1.020)" font-size="32" text-anchor="start" font-weight="normal" font-style="normal" font-family='"Liberation Sans", sans-serif' >0.6</text>
<path d="M584.4 363.16H619.3" stroke="#ffd500" stroke-width="4.5" stroke-linecap="round"/>
<path transform="translate(646.20 374.36) scale(32.000 32.640)" d="M0.3726 0 L0.2847 0 L0.2847 -0.535 C0.235 -0.495 0.175 -0.462 0.106 -0.436 L0.106 -0.512 C0.200 -0.555 0.270 -0.620 0.313 -0.697 L0.3726 -0.697 Z" fill="#000"/>
<text transform="translate(664.00 374.36) scale(1 1.020)" font-size="32" text-anchor="start" font-weight="normal" font-style="normal" font-family='"Liberation Sans", sans-serif' >.2</text>
<path d="M584.4 401.89H619.3" stroke="#40ff10" stroke-width="4.5" stroke-linecap="round"/>
<path transform="translate(646.20 413.09) scale(32.000 32.640)" d="M0.3726 0 L0.2847 0 L0.2847 -0.535 C0.235 -0.495 0.175 -0.462 0.106 -0.436 L0.106 -0.512 C0.200 -0.555 0.270 -0.620 0.313 -0.697 L0.3726 -0.697 Z" fill="#000"/>
<text transform="translate(664.00 413.09) scale(1 1.020)" font-size="32" text-anchor="start" font-weight="normal" font-style="normal" font-family='"Liberation Sans", sans-serif' >.8</text>
<path d="M584.4 440.62H619.3" stroke="#00ff95" stroke-width="4.5" stroke-linecap="round"/>
<text transform="translate(646.20 451.82) scale(1 1.020)" font-size="32" text-anchor="start" font-weight="normal" font-style="normal" font-family='"Liberation Sans", sans-serif' >2.4</text>
<path d="M584.4 479.35H619.3" stroke="#00f7ff" stroke-width="4.5" stroke-linecap="round"/>
<text transform="translate(646.20 490.55) scale(1 1.020)" font-size="32" text-anchor="start" font-weight="normal" font-style="normal" font-family='"Liberation Sans", sans-serif' >2.7</text>
<path d="M584.4 518.08H619.3" stroke="#00bbff" stroke-width="4.5" stroke-linecap="round"/>
<text transform="translate(646.20 529.28) scale(1 1.020)" font-size="32" text-anchor="start" font-weight="normal" font-style="normal" font-family='"Liberation Sans", sans-serif' >3.0</text>
<path d="M584.4 556.81H619.3" stroke="#007dff" stroke-width="4.5" stroke-linecap="round"/>
<text transform="translate(646.20 568.01) scale(1 1.020)" font-size="32" text-anchor="start" font-weight="normal" font-style="normal" font-family='"Liberation Sans", sans-serif' >3.5</text>
<path d="M584.4 595.54H619.3" stroke="#0535ff" stroke-width="4.5" stroke-linecap="round"/>
<text transform="translate(646.20 606.74) scale(1 1.020)" font-size="32" text-anchor="start" font-weight="normal" font-style="normal" font-family='"Liberation Sans", sans-serif' >5.0</text>
<path d="M1353.9 273.90H1388.1" stroke="#ff0000" stroke-width="4.5" stroke-linecap="round"/>
<text transform="translate(1414.80 285.10) scale(1 1.020)" font-size="32" text-anchor="start" font-weight="normal" font-style="normal" font-family='"Liberation Sans", sans-serif' >0</text>
<path d="M1353.9 312.73H1388.1" stroke="#ffb000" stroke-width="4.5" stroke-linecap="round"/>
<path transform="translate(1414.80 323.93) scale(32.000 32.640)" d="M0.3726 0 L0.2847 0 L0.2847 -0.535 C0.235 -0.495 0.175 -0.462 0.106 -0.436 L0.106 -0.512 C0.200 -0.555 0.270 -0.620 0.313 -0.697 L0.3726 -0.697 Z" fill="#000"/>
<path d="M1353.9 351.56H1388.1" stroke="#f5f000" stroke-width="4.5" stroke-linecap="round"/>
<text transform="translate(1414.80 362.76) scale(1 1.020)" font-size="32" text-anchor="start" font-weight="normal" font-style="normal" font-family='"Liberation Sans", sans-serif' >2</text>
<path d="M1353.9 390.39H1388.1" stroke="#60f800" stroke-width="4.5" stroke-linecap="round"/>
<text transform="translate(1414.80 401.59) scale(1 1.020)" font-size="32" text-anchor="start" font-weight="normal" font-style="normal" font-family='"Liberation Sans", sans-serif' >3</text>
<path d="M1353.9 429.22H1388.1" stroke="#00ff1a" stroke-width="4.5" stroke-linecap="round"/>
<text transform="translate(1414.80 440.42) scale(1 1.020)" font-size="32" text-anchor="start" font-weight="normal" font-style="normal" font-family='"Liberation Sans", sans-serif' >4</text>
<path d="M1353.9 468.05H1388.1" stroke="#00ff98" stroke-width="4.5" stroke-linecap="round"/>
<text transform="translate(1414.80 479.25) scale(1 1.020)" font-size="32" text-anchor="start" font-weight="normal" font-style="normal" font-family='"Liberation Sans", sans-serif' >5</text>
<path d="M1353.9 506.88H1388.1" stroke="#00eeff" stroke-width="4.5" stroke-linecap="round"/>
<text transform="translate(1414.80 518.08) scale(1 1.020)" font-size="32" text-anchor="start" font-weight="normal" font-style="normal" font-family='"Liberation Sans", sans-serif' >6</text>
<path d="M1353.9 545.71H1388.1" stroke="#00a8ff" stroke-width="4.5" stroke-linecap="round"/>
<text transform="translate(1414.80 556.91) scale(1 1.020)" font-size="32" text-anchor="start" font-weight="normal" font-style="normal" font-family='"Liberation Sans", sans-serif' >7</text>
<path d="M1353.9 584.54H1388.1" stroke="#005cff" stroke-width="4.5" stroke-linecap="round"/>
<text transform="translate(1414.80 595.74) scale(1 1.020)" font-size="32" text-anchor="start" font-weight="normal" font-style="normal" font-family='"Liberation Sans", sans-serif' >8</text>
<path d="M1353.9 623.37H1388.1" stroke="#0535ff" stroke-width="4.5" stroke-linecap="round"/>
<text transform="translate(1414.80 634.57) scale(1 1.020)" font-size="32" text-anchor="start" font-weight="normal" font-style="normal" font-family='"Liberation Sans", sans-serif' >9</text>
<g clip-path="url(#cc)">
<rect x="319.80" y="1126.40" width="19.2" height="19.2" fill="none" stroke="#9900cc" stroke-width="2"/>
<rect x="349.20" y="1173.65" width="19.2" height="19.2" fill="none" stroke="#9900cc" stroke-width="2"/>
<rect x="378.10" y="1192.55" width="19.2" height="19.2" fill="none" stroke="#9900cc" stroke-width="2"/>
<path d="M378.20 1191.65V1212.65 M397.20 1191.65V1212.65 M378.10 1202.15H378.20 M397.20 1202.15H397.30" stroke="#9900cc" stroke-width="1.3" fill="none"/>
<rect x="404.00" y="1220.90" width="19.2" height="19.2" fill="none" stroke="#9900cc" stroke-width="2"/>
<path d="M405.60 1220.00V1241.00 M421.60 1220.00V1241.00 M404.00 1230.50H405.60 M421.60 1230.50H423.20" stroke="#9900cc" stroke-width="1.3" fill="none"/>
<rect x="428.20" y="1249.25" width="19.2" height="19.2" fill="none" stroke="#9900cc" stroke-width="2"/>
<path d="M429.80 1248.35V1269.35 M445.80 1248.35V1269.35 M428.20 1258.85H429.80 M445.80 1258.85H447.40" stroke="#9900cc" stroke-width="1.3" fill="none"/>
<rect x="447.70" y="1277.60" width="19.2" height="19.2" fill="none" stroke="#9900cc" stroke-width="2"/>
<path d="M449.30 1276.70V1297.70 M465.30 1276.70V1297.70 M447.70 1287.20H449.30 M465.30 1287.20H466.90" stroke="#9900cc" stroke-width="1.3" fill="none"/>
<rect x="467.40" y="1305.95" width="19.2" height="19.2" fill="none" stroke="#9900cc" stroke-width="2"/>
<path d="M469.60 1305.05V1326.05 M484.40 1305.05V1326.05 M467.40 1315.55H469.60 M484.40 1315.55H486.60" stroke="#9900cc" stroke-width="1.3" fill="none"/>
<rect x="488.70" y="1334.30" width="19.2" height="19.2" fill="none" stroke="#9900cc" stroke-width="2"/>
<path d="M494.40 1333.40V1354.40 M502.20 1333.40V1354.40 M488.70 1343.90H494.40 M502.20 1343.90H507.90" stroke="#9900cc" stroke-width="1.3" fill="none"/>
<rect x="508.40" y="1362.65" width="19.2" height="19.2" fill="none" stroke="#9900cc" stroke-width="2"/>
<path d="M516.20 1361.75V1382.75 M519.80 1361.75V1382.75 M508.40 1372.25H516.20 M519.80 1372.25H527.60" stroke="#9900cc" stroke-width="1.3" fill="none"/>
<rect x="527.80" y="1391.00" width="19.2" height="19.2" fill="none" stroke="#9900cc" stroke-width="2"/>
<path d="M536.10 1390.10V1411.10 M538.70 1390.10V1411.10 M527.80 1400.60H536.10 M538.70 1400.60H547.00" stroke="#9900cc" stroke-width="1.3" fill="none"/>
<rect x="546.60" y="1419.35" width="19.2" height="19.2" fill="none" stroke="#9900cc" stroke-width="2"/>
<path d="M555.20 1418.45V1439.45 M557.20 1418.45V1439.45 M546.60 1428.95H555.20 M557.20 1428.95H565.80" stroke="#9900cc" stroke-width="1.3" fill="none"/>
<rect x="565.80" y="1447.70" width="19.2" height="19.2" fill="none" stroke="#9900cc" stroke-width="2"/>
<path d="M574.40 1446.80V1467.80 M576.40 1446.80V1467.80 M565.80 1457.30H574.40 M576.40 1457.30H585.00" stroke="#9900cc" stroke-width="1.3" fill="none"/>
<rect x="577.00" y="1466.60" width="19.2" height="19.2" fill="none" stroke="#9900cc" stroke-width="2"/>
<path d="M585.60 1465.70V1486.70 M587.60 1465.70V1486.70 M577.00 1476.20H585.60 M587.60 1476.20H596.20" stroke="#9900cc" stroke-width="1.3" fill="none"/>
<rect x="582.40" y="1476.05" width="19.2" height="19.2" fill="none" stroke="#9900cc" stroke-width="2"/>
<path d="M591.00 1475.15V1496.15 M593.00 1475.15V1496.15 M582.40 1485.65H591.00 M593.00 1485.65H601.60" stroke="#9900cc" stroke-width="1.3" fill="none"/>
<rect x="587.80" y="1485.50" width="19.2" height="19.2" fill="none" stroke="#9900cc" stroke-width="2"/>
<path d="M596.40 1484.60V1505.60 M598.40 1484.60V1505.60 M587.80 1495.10H596.40 M598.40 1495.10H607.00" stroke="#9900cc" stroke-width="1.3" fill="none"/>
<rect x="592.80" y="1494.95" width="19.2" height="19.2" fill="none" stroke="#9900cc" stroke-width="2"/>
<path d="M601.40 1494.05V1515.05 M603.40 1494.05V1515.05 M592.80 1504.55H601.40 M603.40 1504.55H612.00" stroke="#9900cc" stroke-width="1.3" fill="none"/>
<rect x="595.30" y="1499.68" width="19.2" height="19.2" fill="none" stroke="#9900cc" stroke-width="2"/>
<path d="M603.90 1498.78V1519.78 M605.90 1498.78V1519.78 M595.30 1509.28H603.90 M605.90 1509.28H614.50" stroke="#9900cc" stroke-width="1.3" fill="none"/>
<rect x="597.30" y="1504.40" width="19.2" height="19.2" fill="none" stroke="#9900cc" stroke-width="2"/>
<path d="M605.90 1503.50V1524.50 M607.90 1503.50V1524.50 M597.30 1514.00H605.90 M607.90 1514.00H616.50" stroke="#9900cc" stroke-width="1.3" fill="none"/>
<path d="M494.5 1308.5 L607.5 1513.5" stroke="#808080" stroke-width="5.2" stroke-dasharray="13.6 10.6" fill="none"/>
</g>
<path d="M377 1322V1246" stroke="#000" stroke-width="2.8"/>
<path d="M377 1219.5 L362.5 1248.2 L391.5 1248.2Z" fill="#000" stroke="#000" stroke-width="1" stroke-linejoin="round"/>
<g clip-path="url(#cd)">
<path d="M1079.40 1076.55 L1068.83 1082.65 L1068.83 1094.85 L1079.40 1100.95 L1089.97 1094.85 L1089.97 1082.65 Z" fill="none" stroke="#0a1eff" stroke-width="1.9" stroke-linejoin="miter"/>
<path d="M1071.90 1077.55V1099.95 M1086.90 1077.55V1099.95 M1071.90 1088.75H1086.90" stroke="#0a1eff" stroke-width="1.5" fill="none"/>
<path d="M1103.50 1123.80 L1092.93 1129.90 L1092.93 1142.10 L1103.50 1148.20 L1114.07 1142.10 L1114.07 1129.90 Z" fill="none" stroke="#0a1eff" stroke-width="1.9" stroke-linejoin="miter"/>
<path d="M1097.80 1124.80V1147.20 M1109.20 1124.80V1147.20 M1097.80 1136.00H1109.20" stroke="#0a1eff" stroke-width="1.5" fill="none"/>
<path d="M1124.30 1147.42 L1113.73 1153.53 L1113.73 1165.72 L1124.30 1171.83 L1134.87 1165.72 L1134.87 1153.53 Z" fill="none" stroke="#0a1eff" stroke-width="1.9" stroke-linejoin="miter"/>
<path d="M1118.80 1148.42V1170.83 M1129.80 1148.42V1170.83 M1118.80 1159.62H1129.80" stroke="#0a1eff" stroke-width="1.5" fill="none"/>
<path d="M1147.00 1171.05 L1136.43 1177.15 L1136.43 1189.35 L1147.00 1195.45 L1157.57 1189.35 L1157.57 1177.15 Z" fill="none" stroke="#0a1eff" stroke-width="1.9" stroke-linejoin="miter"/>
<path d="M1141.50 1172.05V1194.45 M1152.50 1172.05V1194.45 M1141.50 1183.25H1152.50" stroke="#0a1eff" stroke-width="1.5" fill="none"/>
<path d="M1160.00 1194.67 L1149.43 1200.78 L1149.43 1212.97 L1160.00 1219.08 L1170.57 1212.97 L1170.57 1200.78 Z" fill="none" stroke="#0a1eff" stroke-width="1.9" stroke-linejoin="miter"/>
<path d="M1155.00 1195.67V1218.08 M1165.00 1195.67V1218.08 M1155.00 1206.88H1165.00" stroke="#0a1eff" stroke-width="1.5" fill="none"/>
<path d="M1178.30 1218.30 L1167.73 1224.40 L1167.73 1236.60 L1178.30 1242.70 L1188.87 1236.60 L1188.87 1224.40 Z" fill="none" stroke="#0a1eff" stroke-width="1.9" stroke-linejoin="miter"/>
<path d="M1173.30 1219.30V1241.70 M1183.30 1219.30V1241.70 M1173.30 1230.50H1183.30" stroke="#0a1eff" stroke-width="1.5" fill="none"/>
<path d="M1194.60 1241.92 L1184.03 1248.03 L1184.03 1260.22 L1194.60 1266.33 L1205.17 1260.22 L1205.17 1248.03 Z" fill="none" stroke="#0a1eff" stroke-width="1.9" stroke-linejoin="miter"/>
<path d="M1190.10 1242.92V1265.33 M1199.10 1242.92V1265.33 M1190.10 1254.12H1199.10" stroke="#0a1eff" stroke-width="1.5" fill="none"/>
<path d="M1211.30 1265.55 L1200.73 1271.65 L1200.73 1283.85 L1211.30 1289.95 L1221.87 1283.85 L1221.87 1271.65 Z" fill="none" stroke="#0a1eff" stroke-width="1.9" stroke-linejoin="miter"/>
<path d="M1206.80 1266.55V1288.95 M1215.80 1266.55V1288.95 M1206.80 1277.75H1215.80" stroke="#0a1eff" stroke-width="1.5" fill="none"/>
<path d="M1227.90 1289.17 L1217.33 1295.28 L1217.33 1307.47 L1227.90 1313.58 L1238.47 1307.47 L1238.47 1295.28 Z" fill="none" stroke="#0a1eff" stroke-width="1.9" stroke-linejoin="miter"/>
<path d="M1223.90 1290.17V1312.58 M1231.90 1290.17V1312.58 M1223.90 1301.38H1231.90" stroke="#0a1eff" stroke-width="1.5" fill="none"/>
<path d="M1242.60 1312.80 L1232.03 1318.90 L1232.03 1331.10 L1242.60 1337.20 L1253.17 1331.10 L1253.17 1318.90 Z" fill="none" stroke="#0a1eff" stroke-width="1.9" stroke-linejoin="miter"/>
<path d="M1240.60 1313.80V1336.20 M1244.60 1313.80V1336.20 M1240.60 1325.00H1244.60" stroke="#0a1eff" stroke-width="1.5" fill="none"/>
<path d="M1257.30 1336.42 L1246.73 1342.53 L1246.73 1354.72 L1257.30 1360.83 L1267.87 1354.72 L1267.87 1342.53 Z" fill="none" stroke="#0a1eff" stroke-width="1.9" stroke-linejoin="miter"/>
<path d="M1255.80 1337.42V1359.83 M1258.80 1337.42V1359.83 M1255.80 1348.62H1258.80" stroke="#0a1eff" stroke-width="1.5" fill="none"/>
<path d="M1273.60 1360.05 L1263.03 1366.15 L1263.03 1378.35 L1273.60 1384.45 L1284.17 1378.35 L1284.17 1366.15 Z" fill="none" stroke="#0a1eff" stroke-width="1.9" stroke-linejoin="miter"/>
<path d="M1272.10 1361.05V1383.45 M1275.10 1361.05V1383.45 M1272.10 1372.25H1275.10" stroke="#0a1eff" stroke-width="1.5" fill="none"/>
<path d="M1291.00 1383.67 L1280.43 1389.78 L1280.43 1401.97 L1291.00 1408.08 L1301.57 1401.97 L1301.57 1389.78 Z" fill="none" stroke="#0a1eff" stroke-width="1.9" stroke-linejoin="miter"/>
<path d="M1289.50 1384.67V1407.08 M1292.50 1384.67V1407.08 M1289.50 1395.88H1292.50" stroke="#0a1eff" stroke-width="1.5" fill="none"/>
<path d="M1308.50 1407.30 L1297.93 1413.40 L1297.93 1425.60 L1308.50 1431.70 L1319.07 1425.60 L1319.07 1413.40 Z" fill="none" stroke="#0a1eff" stroke-width="1.9" stroke-linejoin="miter"/>
<path d="M1307.30 1408.30V1430.70 M1309.70 1408.30V1430.70 M1307.30 1419.50H1309.70" stroke="#0a1eff" stroke-width="1.5" fill="none"/>
<path d="M1326.30 1430.92 L1315.73 1437.03 L1315.73 1449.22 L1326.30 1455.33 L1336.87 1449.22 L1336.87 1437.03 Z" fill="none" stroke="#0a1eff" stroke-width="1.9" stroke-linejoin="miter"/>
<path d="M1325.10 1431.92V1454.33 M1327.50 1431.92V1454.33 M1325.10 1443.12H1327.50" stroke="#0a1eff" stroke-width="1.5" fill="none"/>
<path d="M1344.50 1454.55 L1333.93 1460.65 L1333.93 1472.85 L1344.50 1478.95 L1355.07 1472.85 L1355.07 1460.65 Z" fill="none" stroke="#0a1eff" stroke-width="1.9" stroke-linejoin="miter"/>
<path d="M1343.50 1455.55V1477.95 M1345.50 1455.55V1477.95 M1343.50 1466.75H1345.50" stroke="#0a1eff" stroke-width="1.5" fill="none"/>
<path d="M1352.60 1471.09 L1342.03 1477.19 L1342.03 1489.39 L1352.60 1495.49 L1363.17 1489.39 L1363.17 1477.19 Z" fill="none" stroke="#0a1eff" stroke-width="1.9" stroke-linejoin="miter"/>
<path d="M1351.60 1472.09V1494.49 M1353.60 1472.09V1494.49 M1351.60 1483.29H1353.60" stroke="#0a1eff" stroke-width="1.5" fill="none"/>
<path d="M1359.00 1480.54 L1348.43 1486.64 L1348.43 1498.84 L1359.00 1504.94 L1369.57 1498.84 L1369.57 1486.64 Z" fill="none" stroke="#0a1eff" stroke-width="1.9" stroke-linejoin="miter"/>
<path d="M1358.00 1481.54V1503.94 M1360.00 1481.54V1503.94 M1358.00 1492.74H1360.00" stroke="#0a1eff" stroke-width="1.5" fill="none"/>
<path d="M1363.40 1488.10 L1352.83 1494.20 L1352.83 1506.40 L1363.40 1512.50 L1373.97 1506.40 L1373.97 1494.20 Z" fill="none" stroke="#0a1eff" stroke-width="1.9" stroke-linejoin="miter"/>
<path d="M1362.40 1489.10V1511.50 M1364.40 1489.10V1511.50 M1362.40 1500.30H1364.40" stroke="#0a1eff" stroke-width="1.5" fill="none"/>
<path d="M1367.20 1493.77 L1356.63 1499.87 L1356.63 1512.07 L1367.20 1518.17 L1377.77 1512.07 L1377.77 1499.87 Z" fill="none" stroke="#0a1eff" stroke-width="1.9" stroke-linejoin="miter"/>
<path d="M1366.20 1494.77V1517.17 M1368.20 1494.77V1517.17 M1366.20 1505.97H1368.20" stroke="#0a1eff" stroke-width="1.5" fill="none"/>
<path d="M1370.60 1498.49 L1360.03 1504.59 L1360.03 1516.79 L1370.60 1522.89 L1381.17 1516.79 L1381.17 1504.59 Z" fill="none" stroke="#0a1eff" stroke-width="1.9" stroke-linejoin="miter"/>
<path d="M1369.60 1499.49V1521.89 M1371.60 1499.49V1521.89 M1369.60 1510.69H1371.60" stroke="#0a1eff" stroke-width="1.5" fill="none"/>
<path d="M1259.5 1308.5 L1371 1514" stroke="#808080" stroke-width="5.2" stroke-dasharray="13.6 10.6" fill="none"/>
</g>
<path d="M1136.6 1315V1236" stroke="#000" stroke-width="2.8"/>
<path d="M1136.6 1209.2 L1122.1 1237.8 L1151.1 1237.8Z" fill="#000" stroke="#000" stroke-width="1" stroke-linejoin="round"/>
</svg></body></html>
